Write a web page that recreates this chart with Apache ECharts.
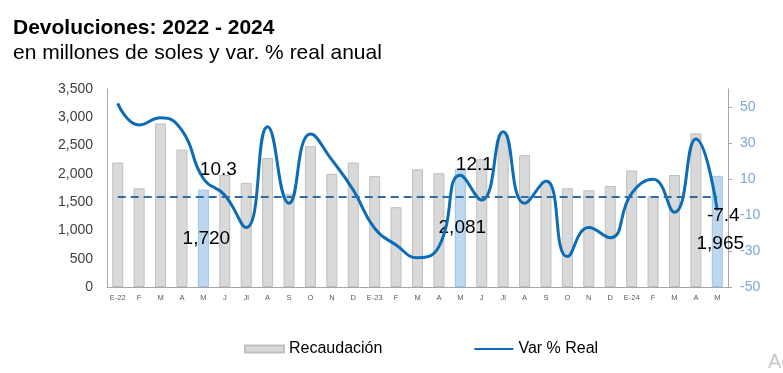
<!DOCTYPE html>
<html><head><meta charset="utf-8">
<script src="https://cdn.jsdelivr.net/npm/echarts@6/dist/echarts.min.js"></script>
<style>html,body{margin:0;padding:0;background:#fff}#c{width:783px;height:373px}</style>
</head><body><div id="c"></div>
<script>
const categories = ['E-22','F','M','A','M','J','Jl','A','S','O','N','D','E-23','F','M','A','M','J','Jl','A','S','O','N','D','E-24','F','M','A','M'];
const recaudacion = [2200,1745,2890,2430,1720,1980,1840,2280,1640,2490,2000,2200,1960,1410,2080,2010,2081,2260,2700,2330,1875,1745,1710,1785,2060,1605,1980,2715,1965];
const varReal = [52,40,44,37,10.3,1,-17,39,-3.5,35,20.6,3.9,-17.4,-26.7,-33.7,-27.6,12.1,-1.7,36.3,-3.5,8.9,-33.1,-17,-22.6,2,9.8,-8.5,32.2,-7.4];
const leftTicks = {min:0, max:3500, interval:500};
const rightTicks = {min:-50, max:60, interval:20};
const zeroRef = 0;

const highlight = {4:{offset:[3,0]}, 16:{offset:[2,0]}, 28:{offset:[3,12]}};
const lineLabels = {4:{offset:[15,6]}, 16:{offset:[14,4]}, 28:{offset:[6,20]}};

const fmt = v => v.toLocaleString('en-US');
const FONT = 'Liberation Sans, Arial, sans-serif';
const LINE_COLOR = '#0d6cb6';

const barData = recaudacion.map((v,i)=>{
  const h = highlight[i];
  if(!h) return v;
  return {value:v, itemStyle:{color:'#bdd7ee', borderColor:'#9dc3e6'},
    label:{show:true, position:'inside', offset:h.offset, formatter:p=>fmt(p.value),
      fontSize:19, color:'#000', fontFamily:FONT}};
});
const lineData = varReal.map((v,i)=>{
  const l = lineLabels[i];
  if(!l) return v;
  return {value:v, symbol:'circle', symbolSize:0.5, itemStyle:{color:LINE_COLOR},
    label:{show:true, position:'top', offset:l.offset, formatter:p=>String(p.value),
    fontSize:19, color:'#000', fontFamily:FONT}};
});

const chart = echarts.init(document.getElementById('c'), null, {renderer:'canvas'});
chart.setOption({
  animation:false,
  backgroundColor:'#fff',
  textStyle:{fontFamily:FONT},
  title:[
    {text:'Devoluciones: 2022 - 2024', left:8, top:13, textStyle:{fontSize:21, fontWeight:'bold', color:'#000', fontFamily:FONT}},
    {text:'en millones de soles y var. % real anual', left:8, top:38, textStyle:{fontSize:21, fontWeight:'normal', color:'#000', fontFamily:FONT}}
  ],
  legend:{
    left:239, top:336, itemGap:91, itemWidth:39, itemHeight:7,
    textStyle:{fontSize:16, color:'#000', fontFamily:FONT},
    data:[{name:'Recaudación', icon:'rect'}, {name:'Var % Real', itemStyle:{opacity:0}}]
  },
  graphic:[{type:'text', left:768, top:352, style:{text:'Ac', fontSize:20, fill:'#c8c8c8', fontFamily:FONT}}],
  grid:{left:107, right:55, top:89, bottom:86, containLabel:false},
  xAxis:{
    type:'category', data:categories,
    axisLine:{show:true, lineStyle:{color:'#a6a6a6', width:1}},
    axisTick:{show:false},
    axisLabel:{fontSize:7.5, color:'#595959', margin:7, interval:0, fontFamily:FONT}
  },
  yAxis:[
    {type:'value', min:leftTicks.min, max:leftTicks.max, interval:leftTicks.interval,
      axisLine:{show:true, lineStyle:{color:'#a6a6a6'}}, axisTick:{show:false}, splitLine:{show:false},
      axisLabel:{fontSize:14, color:'#404040', margin:14, formatter:v=>fmt(v), fontFamily:FONT}},
    {type:'value', position:'right', min:rightTicks.min, max:rightTicks.max, interval:rightTicks.interval,
      axisLine:{show:true, lineStyle:{color:'#a6a6a6'}}, axisTick:{show:true, length:4, lineStyle:{color:'#a6a6a6'}},
      splitLine:{show:false},
      axisLabel:{fontSize:14, color:'#7ba7d7', margin:12, showMaxLabel:false, fontFamily:FONT}}
  ],
  series:[
    {name:'Recaudación', type:'bar', data:barData, barWidth:11, yAxisIndex:0,
      itemStyle:{color:'#d9d9d9', borderColor:'#bfbfbf', borderWidth:1}, z:2},
    {name:'Var % Real', type:'line', data:lineData, yAxisIndex:1, smooth:0.5, symbol:'none',
      lineStyle:{color:LINE_COLOR, width:3}, itemStyle:{color:LINE_COLOR}, z:4,
      markLine:{silent:true, symbol:'none', label:{show:false},
        lineStyle:{color:'#2e6da4', width:2, type:[8,5]},
        data:[[{coord:[0,zeroRef]},{coord:[categories.length-1,zeroRef]}]]}}
  ]
});
</script></body></html>
